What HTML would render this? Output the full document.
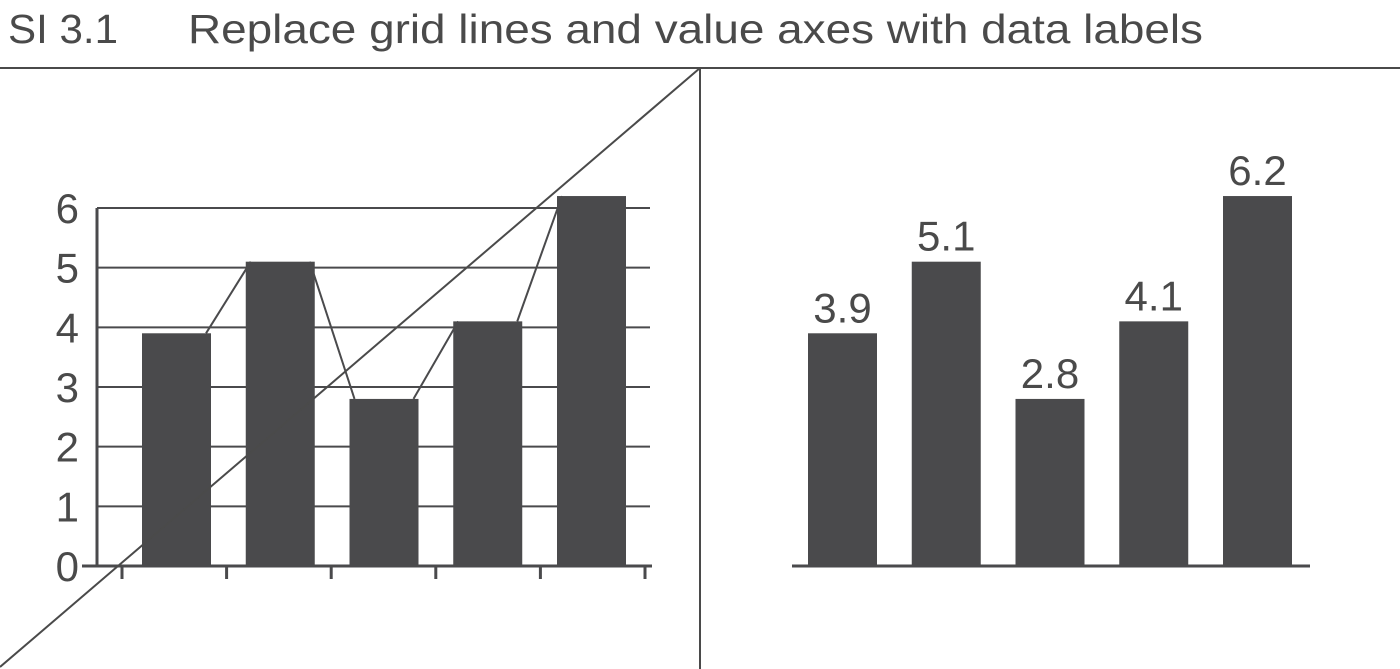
<!DOCTYPE html>
<html><head><meta charset="utf-8"><style>
body{margin:0;background:#fff;}
svg{display:block;font-family:"Liberation Sans",sans-serif;}
</style></head><body>
<svg width="1400" height="669" viewBox="0 0 1400 669">
<text x="8" y="43" font-size="41" fill="#4a4a4a" textLength="110" lengthAdjust="spacingAndGlyphs">SI 3.1</text>
<text x="188" y="43" font-size="41" fill="#4a4a4a" textLength="1015" lengthAdjust="spacingAndGlyphs">Replace grid lines and value axes with data labels</text>
<line x1="0" y1="68" x2="1400" y2="68" stroke="#4a4a4a" stroke-width="2"/>
<line x1="700" y1="68" x2="700" y2="669" stroke="#4a4a4a" stroke-width="2"/>
<g id="left"></g>
<line x1="700" y1="68" x2="0" y2="667" stroke="#4a4a4a" stroke-width="2"/>
<g id="right"></g>
</svg>
<script>
const categories = ["A","B","C","D","E"];
const values = [3.9, 5.1, 2.8, 4.1, 6.2];
const valueLabels = ["3.9","5.1","2.8","4.1","6.2"];
const yTicks = [0,1,2,3,4,5,6];

const NS="http://www.w3.org/2000/svg";
const C="#4a4a4c";
function mk(tag,attrs,parent){const e=document.createElementNS(NS,tag);for(const k in attrs)e.setAttribute(k,attrs[k]);parent.appendChild(e);return e;}
const y0=566, unit=59.67;
function yScale(v){return y0-v*unit;}
const barW=69, step=103.75;
function xLeft(i){return 142+i*step;}
function xRight(i){return 808+i*step;}

const L=document.getElementById('left');
yTicks.forEach(t=>{
  if(t>0){const g=mk('line',{x1:97,x2:650,y1:yScale(t),y2:yScale(t),stroke:C,'stroke-width':2},L);
  
  }
  const lb=mk('text',{x:79,y:yScale(t)+15,'font-size':42,fill:'#4a4a4a','text-anchor':'end'},L);
  lb.textContent=t;
  
  
});
for(let i=0;i<values.length-1;i++){
  const ln=mk('line',{x1:xLeft(i)+barW-5,y1:yScale(values[i]),x2:xLeft(i+1)+5,y2:yScale(values[i+1]),stroke:C,'stroke-width':2},L);
  
  
}
values.forEach((v,i)=>{
  const r=mk('rect',{x:xLeft(i),y:yScale(v),width:barW,height:y0-yScale(v),fill:C},L);
  
  
});
const ya=mk('line',{x1:97,x2:97,y1:yScale(6),y2:y0+1,stroke:C,'stroke-width':3},L);


const xa=mk('line',{x1:82,x2:652,y1:y0,y2:y0,stroke:C,'stroke-width':3},L);


for(let i=0;i<=categories.length;i++){
  const tx=122+i*104.6;
  const tk=mk('line',{x1:tx,x2:tx,y1:y0,y2:579,stroke:C,'stroke-width':3},L);
  
  
}

const R=document.getElementById('right');
values.forEach((v,i)=>{
  const r=mk('rect',{x:xRight(i),y:yScale(v),width:barW,height:y0-yScale(v),fill:C},R);
  
  
  const t=mk('text',{x:xRight(i)+barW/2,y:yScale(v)-11,'font-size':42,fill:'#4a4a4a','text-anchor':'middle'},R);
  t.textContent=valueLabels[i];
  
  
});
const base=mk('line',{x1:792,x2:1310,y1:y0,y2:y0,stroke:C,'stroke-width':3},R);


</script>
</body></html>
